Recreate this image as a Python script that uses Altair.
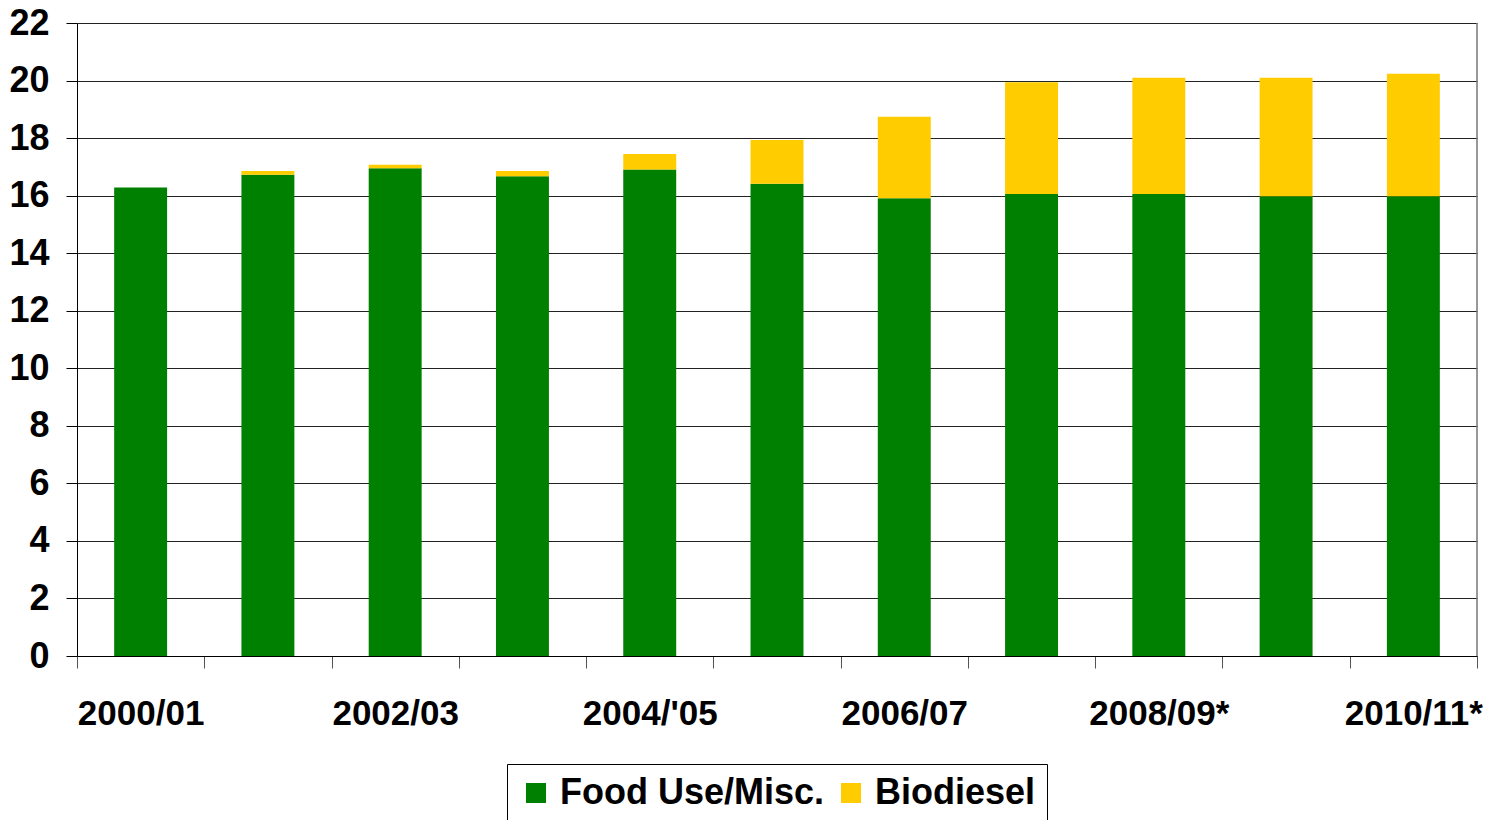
import altair as alt
import pandas as pd

years = ["2000/01", "2001/02", "2002/03", "2003/04", "2004/'05", "2005/06",
         "2006/07", "2007/08", "2008/09*", "2009/10*", "2010/11*"]
food = [16.28, 16.73, 16.95, 16.67, 16.91, 16.41, 15.91, 16.06, 16.06, 15.98, 15.98]
bio = [0.0, 0.13, 0.12, 0.19, 0.54, 1.52, 2.83, 3.88, 4.04, 4.12, 4.26]
series = ["Food Use/Misc.", "Biodiesel"]
colors = ["#008000", "#FFCC00"]
shown_labels = ["2000/01", "2002/03", "2004/'05", "2006/07", "2008/09*", "2010/11*"]
y_ticks = list(range(0, 23, 2))

rows = []
for i, yr in enumerate(years):
    rows.append({"year": yr, "series": series[0], "value": food[i], "ord": 0})
    rows.append({"year": yr, "series": series[1], "value": bio[i], "ord": 1})
df = pd.DataFrame(rows)

W, H = 1400, 633
FONT = "Liberation Sans"

label_expr = "indexof([" + ",".join('"' + s + '"' for s in shown_labels) + "], datum.value) >= 0 ? datum.value : ''"

bars = alt.Chart(df).mark_bar(width={"band": 0.416}).encode(
    x=alt.X("year:N", sort=years, title=None,
            scale=alt.Scale(paddingInner=0, paddingOuter=0),
            axis=alt.Axis(labelAngle=0, labelExpr=label_expr, tickBand="extent",
                          tickSize=12, tickColor="#555555", domainColor="#000000",
                          labelFont=FONT, labelFontSize=35, labelFontWeight="bold",
                          labelColor="#000000", labelPadding=28,
                          grid=False, labelOverlap=False)),
    y=alt.Y("value:Q", stack="zero", title=None,
            scale=alt.Scale(domain=[0, 22], nice=False),
            axis=alt.Axis(values=y_ticks, tickSize=11, tickColor="#000000",
                          domainColor="#000000", gridColor="#222222", gridWidth=1,
                          labelFont=FONT, labelFontSize=36, labelFontWeight="bold",
                          labelColor="#000000", labelPadding=17)),
    color=alt.Color("series:N", sort=series,
                    scale=alt.Scale(domain=series, range=colors),
                    legend=alt.Legend(title=None, orient="none", legendX=430, legendY=741,
                                      direction="horizontal", strokeColor="#000000",
                                      fillColor="#ffffff", padding=11,
                                      labelFont=FONT, labelFontSize=36,
                                      labelFontWeight="bold", labelColor="#000000",
                                      labelLimit=600,
                                      symbolType="square", symbolSize=400,
                                      symbolStrokeWidth=0, labelOffset=6,
                                      columnPadding=8)),
    order=alt.Order("ord:Q"),
)

edge = alt.Chart(pd.DataFrame({"a": [0]})).mark_rule(color="#777777", strokeWidth=1.5).encode(
    x=alt.value(W), y=alt.value(0), y2=alt.value(H)
)

chart = alt.layer(bars, edge).properties(
    width=W, height=H,
    autosize="none",
    padding={"left": 69, "top": 15, "right": 6, "bottom": 164},
).configure_view(stroke=None)

chart.save("out.html", embed_options={"renderer": "svg", "actions": False})
